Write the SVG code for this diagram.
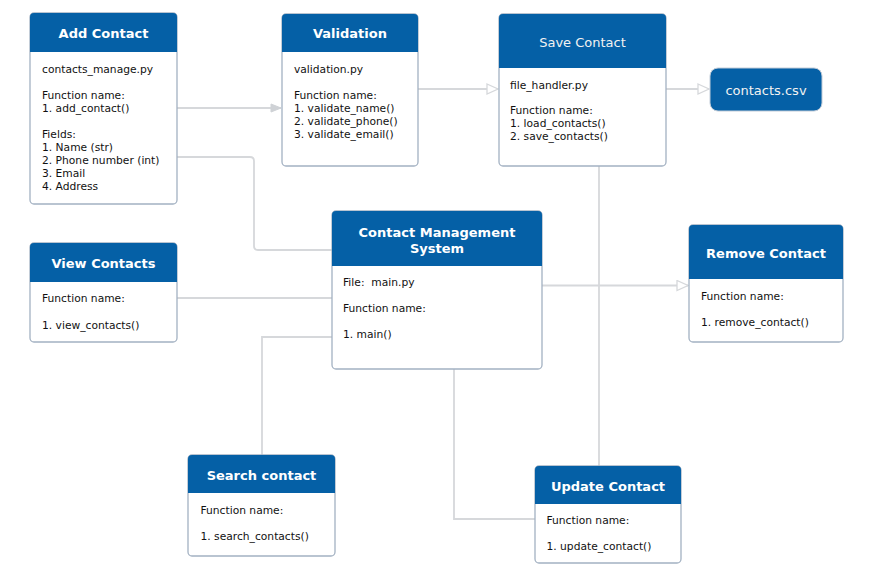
<svg xmlns="http://www.w3.org/2000/svg" width="880" height="580" viewBox="0 0 880 580">
<style>
.box{fill:#ffffff;stroke:#a3b1c2;stroke-width:1.3}
.hdr{fill:#0560a6}
.ht{font-family:"DejaVu Sans",Verdana,sans-serif;font-size:13px;font-weight:bold;fill:#ffffff;text-anchor:middle}
.htr{font-family:"DejaVu Sans",Verdana,sans-serif;font-size:13px;fill:#f2f2f2;text-anchor:middle}
.bt{font-family:"DejaVu Sans",Verdana,sans-serif;font-size:10.7px;fill:#111111}
.con{fill:none;stroke:#d6d8db;stroke-width:1.8}
</style>
<defs>
<marker id="af" markerWidth="12" markerHeight="10" refX="11" refY="5" orient="auto" markerUnits="userSpaceOnUse">
<path d="M1,1 L11,5 L1,9 Z" fill="#cfd2d6" stroke="#cfd2d6" stroke-width="1"/>
</marker>
<marker id="ah" markerWidth="14" markerHeight="12" refX="12" refY="6" orient="auto" markerUnits="userSpaceOnUse">
<path d="M1,1 L12,6 L1,11 Z" fill="#ffffff" stroke="#d6d8db" stroke-width="1.3"/>
</marker>
</defs>
<rect width="880" height="580" fill="#ffffff"/>
<g id="connectors">
<path class="con" d="M177,108 H281" marker-end="url(#af)"/>
<path class="con" d="M418,89 H498" marker-end="url(#ah)"/>
<path class="con" d="M666,89 H709" marker-end="url(#ah)"/>
<path class="con" d="M542,285.5 H688" marker-end="url(#ah)"/>
<path class="con" d="M177,157 H250 Q254,157 254,161 V246 Q254,250 258,250 H332"/>
<path class="con" d="M177,298 H332"/>
<path class="con" d="M332,337 H262 V455"/>
<path class="con" d="M454,369 V519 H535"/>
<path class="con" d="M599,166 V466"/>
</g>
<g id="add-contact">
<rect class="box" x="30" y="13" width="147" height="191" rx="4"/>
<path class="hdr" d="M30,52 V17 Q30,13 34,13 H173 Q177,13 177,17 V52 Z"/>
<text class="ht" x="103.5" y="37.5">Add Contact</text>
<text class="bt" x="42" y="73">contacts_manage.py</text>
<text class="bt" x="42" y="99">Function name:</text>
<text class="bt" x="42" y="112">1. add_contact()</text>
<text class="bt" x="42" y="137.5">Fields:</text>
<text class="bt" x="42" y="150.5">1. Name (str)</text>
<text class="bt" x="42" y="163.5">2. Phone number (int)</text>
<text class="bt" x="42" y="176.5">3. Email</text>
<text class="bt" x="42" y="189.5">4. Address</text>
</g>
<g id="validation">
<rect class="box" x="282" y="14" width="136" height="152" rx="4"/>
<path class="hdr" d="M282,52 V18 Q282,14 286,14 H414 Q418,14 418,18 V52 Z"/>
<text class="ht" x="350" y="38">Validation</text>
<text class="bt" x="294" y="73">validation.py</text>
<text class="bt" x="294" y="99">Function name:</text>
<text class="bt" x="294" y="112">1. validate_name()</text>
<text class="bt" x="294" y="125">2. validate_phone()</text>
<text class="bt" x="294" y="138">3. validate_email()</text>
</g>
<g id="save-contact">
<rect class="box" x="499" y="14" width="167" height="152" rx="4"/>
<path class="hdr" d="M499,68 V18 Q499,14 503,14 H662 Q666,14 666,18 V68 Z"/>
<text class="htr" x="582.5" y="47">Save Contact</text>
<text class="bt" x="510" y="88.5">file_handler.py</text>
<text class="bt" x="510" y="114">Function name:</text>
<text class="bt" x="510" y="127.3">1. load_contacts()</text>
<text class="bt" x="510" y="140">2. save_contacts()</text>
</g>
<g id="contacts-csv">
<rect x="710" y="68" width="112" height="43" rx="8" fill="#0560a6" stroke="#c2ccd8" stroke-width="1"/>
<text class="htr" x="766" y="94.5">contacts.csv</text>
</g>
<g id="main-system">
<rect class="box" x="332" y="211" width="210" height="158" rx="4"/>
<path class="hdr" d="M332,266 V215 Q332,211 336,211 H538 Q542,211 542,215 V266 Z"/>
<text class="ht" x="437" y="236.5">Contact Management</text>
<text class="ht" x="437" y="253">System</text>
<text class="bt" x="343" y="286">File:&#160; main.py</text>
<text class="bt" x="343" y="312">Function name:</text>
<text class="bt" x="343" y="338">1. main()</text>
</g>
<g id="view-contacts">
<rect class="box" x="30" y="243" width="147" height="99" rx="4"/>
<path class="hdr" d="M30,282 V247 Q30,243 34,243 H173 Q177,243 177,247 V282 Z"/>
<text class="ht" x="103.5" y="268">View Contacts</text>
<text class="bt" x="42" y="302">Function name:</text>
<text class="bt" x="42" y="328.5">1. view_contacts()</text>
</g>
<g id="remove-contact">
<rect class="box" x="689" y="225" width="154" height="117" rx="4"/>
<path class="hdr" d="M689,279 V229 Q689,225 693,225 H839 Q843,225 843,229 V279 Z"/>
<text class="ht" x="766" y="257.5">Remove Contact</text>
<text class="bt" x="701" y="300">Function name:</text>
<text class="bt" x="701" y="326">1. remove_contact()</text>
</g>
<g id="search-contact">
<rect class="box" x="188" y="455" width="147" height="101" rx="4"/>
<path class="hdr" d="M188,493 V459 Q188,455 192,455 H331 Q335,455 335,459 V493 Z"/>
<text class="ht" x="261.5" y="479.5">Search contact</text>
<text class="bt" x="200.5" y="514">Function name:</text>
<text class="bt" x="200.5" y="540">1. search_contacts()</text>
</g>
<g id="update-contact">
<rect class="box" x="535" y="466" width="146" height="97" rx="4"/>
<path class="hdr" d="M535,504 V470 Q535,466 539,466 H677 Q681,466 681,470 V504 Z"/>
<text class="ht" x="608" y="490.5">Update Contact</text>
<text class="bt" x="546.5" y="524.3">Function name:</text>
<text class="bt" x="546.5" y="550">1. update_contact()</text>
</g>
</svg>
